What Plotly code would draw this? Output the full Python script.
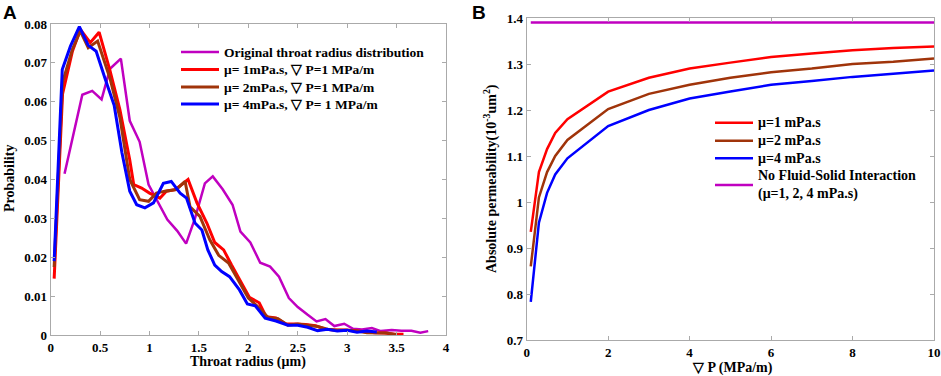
import plotly.graph_objects as go

# ---------------- Panel A data ----------------
orig_x = [0.14, 0.32, 0.42, 0.515, 0.60, 0.71, 0.80, 0.90, 0.99, 1.08, 1.18, 1.28, 1.37, 1.46, 1.56, 1.64, 1.74, 1.84, 1.92, 2.02, 2.12, 2.22, 2.31, 2.41, 2.50, 2.60, 2.69, 2.78, 2.87, 2.97, 3.06, 3.15, 3.25, 3.34, 3.45, 3.55, 3.65, 3.74, 3.82]
orig_y = [0.0415, 0.0618, 0.0628, 0.0606, 0.0685, 0.0711, 0.0551, 0.0497, 0.0387, 0.0345, 0.0297, 0.0268, 0.0235, 0.0300, 0.0390, 0.0408, 0.0375, 0.0335, 0.0266, 0.0238, 0.0186, 0.0176, 0.0150, 0.0095, 0.0072, 0.0052, 0.0035, 0.0041, 0.0023, 0.0029, 0.0016, 0.0014, 0.0018, 0.0010, 0.0013, 0.0011, 0.0011, 0.0006, 0.0010]

mu1_x = [0.035, 0.12, 0.22, 0.30, 0.40, 0.49, 0.60, 0.70, 0.80, 0.84, 0.92, 1.00, 1.105, 1.17, 1.26, 1.32, 1.39, 1.48, 1.58, 1.66, 1.75, 1.83, 1.91, 2.01, 2.11, 2.18, 2.28, 2.38, 2.48, 2.58, 2.68, 2.78, 2.88, 2.98, 3.08, 3.18, 3.28, 3.38, 3.48, 3.57]
mu1_y = [0.0145, 0.0620, 0.0730, 0.0786, 0.0752, 0.0779, 0.0680, 0.0580, 0.0450, 0.0387, 0.0378, 0.0365, 0.0352, 0.0370, 0.0374, 0.0387, 0.0400, 0.0340, 0.0288, 0.0238, 0.0219, 0.0180, 0.0142, 0.0097, 0.0083, 0.0047, 0.0044, 0.0028, 0.0028, 0.0027, 0.0024, 0.0015, 0.0013, 0.0013, 0.0011, 0.0008, 0.0006, 0.0005, 0.0002, 0.0002]

mu2_x = [0.035, 0.12, 0.22, 0.30, 0.38, 0.475, 0.60, 0.70, 0.80, 0.90, 0.99, 1.07, 1.155, 1.27, 1.36, 1.41, 1.51, 1.61, 1.70, 1.80, 1.90, 2.00, 2.10, 2.20, 2.30, 2.40, 2.50, 2.60, 2.70, 2.80, 2.90, 3.00, 3.10, 3.20, 3.30, 3.40, 3.50]
mu2_y = [0.0175, 0.0650, 0.0735, 0.0782, 0.0739, 0.0756, 0.0660, 0.0560, 0.0400, 0.0348, 0.0344, 0.0365, 0.0370, 0.0374, 0.0395, 0.0330, 0.0305, 0.0245, 0.0205, 0.0185, 0.0140, 0.0095, 0.0072, 0.0045, 0.0042, 0.0025, 0.0028, 0.0025, 0.0022, 0.0015, 0.0012, 0.0012, 0.0010, 0.0006, 0.0006, 0.0005, 0.0001]

mu4_x = [0.035, 0.117, 0.20, 0.29, 0.38, 0.46, 0.55, 0.643, 0.72, 0.80, 0.87, 0.953, 1.04, 1.14, 1.22, 1.31, 1.375, 1.46, 1.53, 1.59, 1.66, 1.73, 1.81, 1.91, 1.99, 2.07, 2.17, 2.28, 2.40, 2.50, 2.60, 2.70, 2.80, 2.90, 3.00, 3.10, 3.20, 3.30]
mu4_y = [0.0190, 0.0683, 0.0743, 0.0793, 0.0745, 0.0730, 0.0660, 0.0590, 0.0470, 0.0370, 0.0335, 0.0327, 0.0340, 0.0390, 0.0395, 0.0365, 0.0352, 0.0288, 0.0270, 0.0219, 0.0180, 0.0163, 0.0150, 0.0116, 0.0080, 0.0075, 0.0043, 0.0036, 0.0025, 0.0025, 0.0020, 0.0011, 0.0015, 0.0010, 0.0012, 0.0007, 0.0010, 0.0008]

a_names = ["Original throat radius distribution",
           "μ= 1mPa.s, ▽ P=1 MPa/m",
           "μ= 2mPa.s, ▽ P=1 MPa/m",
           "μ= 4mPa.s, ▽ P= 1 MPa/m"]
a_xticks = [0, 0.5, 1, 1.5, 2, 2.5, 3, 3.5, 4]
a_xticklabels = ["0", "0.5", "1", "1.5", "2", "2.5", "3", "3.5", "4"]
a_yticks = [0, 0.01, 0.02, 0.03, 0.04, 0.05, 0.06, 0.07, 0.08]
a_yticklabels = ["0", "0.01", "0.02", "0.03", "0.04", "0.05", "0.06", "0.07", "0.08"]

# ---------------- Panel B data ----------------
dp = [0.1, 0.3, 0.5, 0.7, 1, 2, 3, 4, 5, 6, 7, 8, 9, 10]
perm_mu1 = [0.935, 1.065, 1.115, 1.150, 1.180, 1.240, 1.270, 1.290, 1.303, 1.315, 1.323, 1.330, 1.335, 1.338]
perm_mu2 = [0.860, 1.010, 1.065, 1.100, 1.135, 1.202, 1.235, 1.255, 1.270, 1.282, 1.290, 1.300, 1.305, 1.312]
perm_mu4 = [0.783, 0.955, 1.020, 1.060, 1.095, 1.165, 1.200, 1.225, 1.240, 1.255, 1.263, 1.272, 1.279, 1.286]
perm_nofsi = [1.39] * len(dp)

b_names = ["μ=1 mPa.s", "μ=2 mPa.s", "μ=4 mPa.s",
           "No Fluid-Solid Interaction<br>(μ=1, 2, 4 mPa.s)"]
b_xticks = [0, 2, 4, 6, 8, 10]
b_yticks = [0.7, 0.8, 0.9, 1.0, 1.1, 1.2, 1.3, 1.4]
b_yticklabels = ["0.7", "0.8", "0.9", "1", "1.1", "1.2", "1.3", "1.4"]

MAG = "rgb(192,0,192)"
RED = "rgb(255,0,0)"
BRN = "rgb(160,52,10)"
BLU = "rgb(0,0,255)"
SERIF = "Liberation Serif"
W, H = 941, 376

a_colors = [MAG, RED, BRN, BLU]
a_widths = [2.5, 3, 3, 3]
b_colors = [RED, BRN, BLU, MAG]

fig = go.Figure()
for xs, ys, nm, col, wd in zip([orig_x, mu1_x, mu2_x, mu4_x], [orig_y, mu1_y, mu2_y, mu4_y],
                               a_names, a_colors, a_widths):
    fig.add_trace(go.Scatter(x=xs, y=ys, name=nm, mode="lines",
                             line=dict(color=col, width=wd), xaxis="x", yaxis="y"))

for ys, nm, col in zip([perm_mu1, perm_mu2, perm_mu4, perm_nofsi], b_names, b_colors):
    fig.add_trace(go.Scatter(x=dp, y=ys, name=nm, mode="lines",
                             line=dict(color=col, width=2.5), xaxis="x2", yaxis="y2"))

tickfont = dict(family=SERIF, size=13, color="black", weight="bold")
axcommon = dict(showgrid=False, zeroline=False, showline=True, linecolor="rgb(170,170,170)",
                linewidth=1, mirror="ticks", ticks="inside", ticklen=4, automargin=False,
                tickcolor="rgb(170,170,170)", tickfont=tickfont)

fig.update_layout(
    width=W, height=H, margin=dict(l=0, r=0, t=0, b=0),
    paper_bgcolor="white", plot_bgcolor="white",
    font=dict(family=SERIF, size=13, color="black", weight="bold"),
    showlegend=False,
    xaxis=dict(domain=[50.7 / W, 446 / W], range=[0, 4], tickvals=a_xticks,
               ticktext=a_xticklabels, anchor="y", **axcommon),
    yaxis=dict(domain=[1 - 335 / H, 1 - 24 / H], range=[0, 0.08], tickvals=a_yticks,
               ticktext=a_yticklabels, anchor="x", **axcommon),
    xaxis2=dict(domain=[526.7 / W, 934 / W], range=[0, 10], tickvals=b_xticks,
                anchor="y2", **axcommon),
    yaxis2=dict(domain=[1 - 340 / H, 1 - 18 / H], range=[0.7, 1.4], tickvals=b_yticks,
                ticktext=b_yticklabels, anchor="x2", **axcommon),
)

def px_x(p):
    return p / W

def px_y(p):
    return 1 - p / H

# manual legends (paper coordinates)
a_leg_rows = [52, 69.5, 87, 104]
for nm, col, wd, ry in zip(a_names, a_colors, a_widths, a_leg_rows):
    fig.add_shape(type="line", xref="paper", yref="paper",
                  x0=px_x(181), x1=px_x(219), y0=px_y(ry), y1=px_y(ry),
                  line=dict(color=col, width=wd))
    fig.add_annotation(text=nm, xref="paper", yref="paper", x=px_x(222), y=px_y(ry),
                       xanchor="left", yanchor="middle", showarrow=False,
                       font=dict(family=SERIF, size=13.5, weight="bold", color="black"))

b_leg_rows = [122.7, 140.7, 158.3, 185]
for nm, col, ry in zip(b_names, b_colors, b_leg_rows):
    fig.add_shape(type="line", xref="paper", yref="paper",
                  x0=px_x(715), x1=px_x(753), y0=px_y(ry), y1=px_y(ry),
                  line=dict(color=col, width=2.5))
    fig.add_annotation(text=nm, xref="paper", yref="paper", x=px_x(756), y=px_y(ry),
                       xanchor="left", yanchor="middle", align="left", showarrow=False,
                       font=dict(family=SERIF, size=14, weight="bold", color="black"))

ann = [
    dict(text="A", x=px_x(1), y=px_y(0)),
    dict(text="B", x=px_x(470), y=px_y(0)),
]
for a in ann:
    fig.add_annotation(xref="paper", yref="paper", xanchor="left", yanchor="top",
                       showarrow=False, font=dict(family="Liberation Sans", size=19, weight="bold"), **a)

fig.add_annotation(text="Throat radius (μm)", xref="paper", yref="paper",
                   x=px_x(248), y=px_y(362), xanchor="center", yanchor="middle",
                   showarrow=False, font=dict(family=SERIF, size=14, weight="bold"))
fig.add_annotation(text="Probability", xref="paper", yref="paper",
                   x=px_x(9), y=px_y(179), xanchor="center", yanchor="middle",
                   textangle=-90, showarrow=False, font=dict(family=SERIF, size=14, weight="bold"))
fig.add_annotation(text="▽ P (MPa/m)", xref="paper", yref="paper",
                   x=px_x(732), y=px_y(368), xanchor="center", yanchor="middle",
                   showarrow=False, font=dict(family=SERIF, size=14, weight="bold"))
fig.add_annotation(text="Absolute permeability(10<sup>-3</sup>um<sup>2</sup>)", xref="paper", yref="paper",
                   x=px_x(490), y=px_y(179), xanchor="center", yanchor="middle",
                   textangle=-90, showarrow=False, font=dict(family=SERIF, size=14, weight="bold"))

fig.write_html("out.html", config={"displayModeBar": False},
               post_script="document.body.style.margin='0px';document.body.style.overflow='hidden';")
